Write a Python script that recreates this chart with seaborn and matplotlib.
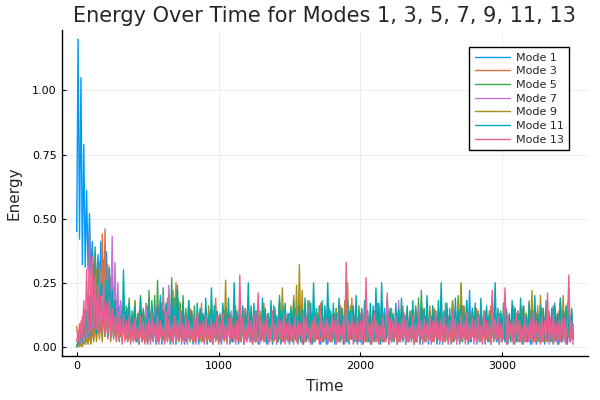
import numpy as np
import pandas as pd
import matplotlib
matplotlib.use("Agg")
import matplotlib.pyplot as plt
import seaborn as sns

# energies, in hundredths, one value every 10 time units (0..3500)
time = np.arange(0, 3501, 10)

mode_labels = ["Mode 1", "Mode 3", "Mode 5", "Mode 7", "Mode 9", "Mode 11", "Mode 13"]
mode_colors = ["#009AFA", "#E36F47", "#3EA44E", "#C371D2", "#AC8E18", "#00A9AD", "#ED5E93"]

mode1 = [
    45,120,42,105,32,79,31,61,30,52,28,41,25,37,22,36,18,41,20,34,14,37,12,28,10,
    24,9,23,7,19,6,17,5,16,4,14,3,12,2,10,3,13,2,9,1,11,2,8,3,12,
    1,9,2,7,3,11,1,8,2,10,1,6,2,9,3,12,1,7,2,10,1,8,3,11,2,
    9,1,12,2,7,3,10,1,8,2,11,1,6,3,9,2,13,1,8,2,10,1,7,3,9,
    2,11,1,8,3,10,2,13,1,7,2,9,3,12,1,8,2,10,1,6,3,11,2,9,1,
    12,2,8,1,10,3,7,2,11,1,9,2,13,1,8,3,10,2,7,1,12,2,9,3,11,
    1,8,2,10,3,12,1,9,2,7,1,11,3,8,2,13,1,10,2,9,3,12,1,8,2,
    10,1,7,3,11,2,9,1,12,2,8,3,10,1,6,2,11,1,9,3,13,2,8,1,10,
    2,12,1,9,3,14,2,11,1,16,3,13,2,17,1,12,2,15,3,10,1,14,2,9,3,
    11,1,8,2,12,3,9,1,10,2,7,3,13,1,9,2,11,1,8,3,10,2,12,1,9,
    2,11,3,8,1,13,2,10,1,14,3,9,2,12,1,16,2,11,3,13,1,10,2,15,3,
    18,1,22,2,14,3,11,1,9,2,12,3,8,1,10,2,13,1,9,3,11,2,8,1,12,
    2,9,3,11,1,8,2,12,1,10,3,7,2,13,1,9,2,11,3,8,1,12,2,10,1,
    9,3,11,2,8,1,12,2,10,3,7,1,9,2,13,1,8,3,11,2,9,1,10,2,7,
    3,
]

mode3 = [
    8,2,9,3,12,4,15,5,18,6,22,8,25,10,30,9,33,12,44,14,46,10,32,8,27,
    7,21,6,18,5,16,4,14,6,12,3,15,4,11,5,13,3,10,2,14,4,9,3,12,2,
    16,4,13,3,11,5,15,2,12,4,17,3,14,5,19,4,13,2,22,5,25,3,18,4,14,
    3,12,2,10,4,15,3,11,2,9,5,13,3,17,2,12,4,10,3,14,2,11,4,19,3,
    12,2,10,4,14,3,9,5,13,2,11,4,16,3,12,2,10,5,15,3,9,4,13,2,11,
    3,14,2,10,4,12,5,17,3,11,2,9,4,13,3,15,2,10,4,12,3,16,5,11,2,
    13,4,10,3,15,2,12,5,9,3,14,2,11,4,18,3,12,2,10,4,13,3,17,2,11,
    4,12,3,15,2,10,5,13,3,11,2,16,4,12,3,9,2,14,5,19,3,12,4,10,2,
    13,3,11,4,15,2,12,5,10,3,14,2,17,4,11,3,13,2,9,5,12,3,15,2,10,
    4,13,2,11,3,16,5,12,2,10,4,14,3,9,2,13,5,11,3,15,2,12,4,10,3,
    12,2,15,4,11,3,13,5,10,2,17,3,12,4,9,2,14,3,11,5,13,2,16,4,12,
    3,10,2,13,4,11,5,15,3,12,2,9,4,14,3,11,2,16,5,12,3,10,2,13,4,
    11,3,14,2,12,4,10,5,16,3,11,2,13,4,15,3,12,2,10,5,14,3,11,4,13,
    2,12,4,15,3,11,2,13,5,10,3,16,2,12,4,14,3,11,5,13,2,17,4,12,3,
    9,
]

mode5 = [
    0,2,1,5,2,9,3,14,4,20,5,28,6,39,7,30,6,25,5,21,4,18,5,15,4,
    13,3,11,4,14,2,10,3,12,4,16,3,19,2,14,4,18,3,12,5,20,4,15,3,17,
    4,22,3,16,5,20,2,26,4,18,3,23,5,15,2,21,4,27,3,19,5,24,2,17,4,
    20,3,15,5,18,2,13,4,16,3,11,5,14,2,12,4,10,3,13,2,15,4,11,3,9,
    2,12,4,10,3,14,2,11,5,13,3,9,2,12,4,15,3,10,2,13,4,11,3,16,2,
    10,4,12,3,14,2,11,5,9,3,13,2,15,4,10,3,12,2,17,4,11,3,14,5,10,
    3,13,2,11,4,15,3,10,5,12,2,14,3,18,4,11,2,13,3,10,5,16,2,12,4,
    11,3,14,2,10,4,13,5,12,3,9,2,15,4,11,3,13,2,10,5,14,3,12,2,16,
    4,12,3,10,2,14,5,11,3,13,2,9,4,15,3,12,2,11,5,14,3,10,4,13,2,
    12,3,15,2,11,4,13,3,10,5,14,2,12,4,16,3,19,2,22,4,15,3,12,5,14,
    3,11,2,13,4,10,3,15,5,12,2,14,3,11,4,17,2,13,3,20,5,24,2,16,4,
    12,3,14,2,10,5,13,3,11,2,15,4,12,3,10,2,14,5,11,3,13,4,9,2,12,
    3,14,2,11,4,13,5,10,3,15,2,12,4,11,3,16,2,13,5,10,3,14,2,12,4,
    11,3,13,2,15,4,12,3,10,5,14,2,16,3,12,4,18,2,13,3,11,5,15,2,10,
    4,
]

mode7 = [
    0,1,0,2,1,3,1,5,2,7,2,9,3,12,4,15,5,19,6,22,5,26,8,30,7,
    43,6,33,5,25,4,18,3,13,5,10,2,14,4,11,3,15,2,12,4,9,3,13,2,16,
    3,12,4,10,2,14,5,17,3,13,2,20,4,16,3,24,5,18,2,15,4,12,3,10,5,
    13,2,11,4,9,3,14,5,10,2,12,3,8,4,13,2,11,5,10,3,14,2,9,4,12,
    3,10,2,13,5,11,3,9,4,14,2,12,3,10,5,13,2,11,4,15,3,9,2,12,4,
    11,3,13,2,10,4,14,3,12,5,9,2,13,4,11,3,10,2,15,5,12,3,9,4,13,
    2,11,4,14,3,10,5,12,2,13,4,9,3,15,2,11,5,10,3,14,4,12,2,16,3,
    12,4,10,2,13,3,11,5,15,2,10,4,12,3,14,2,17,5,11,3,13,4,10,2,12,
    3,14,5,11,2,13,4,10,3,12,5,15,2,11,4,13,3,10,2,14,5,12,3,11,4,
    13,2,18,4,12,3,10,5,14,2,11,3,13,4,9,2,15,5,12,3,10,4,14,2,11,
    5,12,3,10,4,14,2,13,5,11,3,15,2,12,4,18,3,13,5,10,2,14,4,11,3,
    13,5,10,2,14,3,12,4,11,2,15,5,13,3,10,4,12,2,14,5,11,3,13,4,10,
    2,12,4,15,3,11,5,13,2,10,4,14,3,12,5,11,2,13,4,10,3,15,2,12,5,
    11,3,14,2,12,4,10,5,13,3,15,2,11,4,12,3,14,5,10,2,13,4,11,3,12,
    5,
]

mode9 = [
    0,1,0,1,0,2,1,3,1,5,1,7,2,9,2,12,3,10,2,14,4,11,3,16,2,
    13,4,9,2,12,3,8,2,10,4,13,2,9,3,11,2,18,4,12,3,10,2,14,3,9,
    2,11,3,8,4,12,2,10,3,14,2,9,4,12,3,10,2,13,3,8,4,11,2,15,3,
    10,2,12,4,9,3,14,2,11,3,8,4,13,2,10,3,12,2,16,4,11,3,9,2,13,
    3,12,4,16,2,26,3,14,4,11,2,13,3,9,4,12,2,10,3,14,2,11,4,9,3,
    12,2,10,4,14,3,11,2,13,4,9,3,15,2,12,4,10,3,18,2,23,4,14,3,12,
    2,16,4,20,3,24,2,32,4,22,3,15,2,12,4,10,3,13,2,11,4,14,3,9,2,
    12,4,10,3,13,2,11,4,15,3,12,2,14,4,18,3,25,2,16,4,12,3,10,2,13,
    4,11,3,14,2,10,4,12,3,9,2,13,4,11,3,15,2,12,4,10,3,14,2,11,4,
    12,3,10,2,13,4,11,3,15,2,12,4,9,3,14,2,11,4,13,3,10,2,12,4,16,
    3,11,2,14,4,12,3,10,2,13,4,15,3,11,2,18,4,13,3,17,2,25,4,15,3,
    12,2,10,4,13,3,11,2,14,4,12,3,9,2,13,4,11,3,15,2,12,4,10,3,14,
    2,11,4,13,3,10,2,15,4,12,3,14,2,11,4,16,3,13,2,18,4,22,3,14,2,
    16,4,20,3,13,2,11,4,14,3,12,2,15,4,10,3,17,2,20,4,13,3,11,2,14,
    3,
]

mode11 = [
    0,2,1,5,2,9,3,14,4,20,5,26,6,22,5,28,7,24,6,20,5,26,4,31,6,
    22,5,18,4,15,6,12,3,30,5,14,4,17,3,12,5,16,2,13,4,19,3,14,5,11,
    3,15,4,18,2,13,5,16,3,20,4,14,2,17,5,12,3,19,4,15,2,22,5,13,3,
    16,4,12,2,18,5,14,3,11,4,17,2,15,5,13,3,19,4,12,2,23,5,16,3,14,
    4,13,2,17,5,15,3,19,4,12,2,25,5,14,3,18,4,16,2,13,5,25,3,15,4,
    17,2,14,5,12,3,19,4,15,2,13,5,18,3,16,4,12,2,20,5,14,3,17,4,13,
    2,15,5,18,3,12,4,16,2,14,5,19,3,13,4,17,2,25,5,15,3,12,4,18,2,
    16,5,25,3,14,4,17,2,13,5,19,3,15,4,12,2,18,5,14,3,16,4,20,2,13,
    5,15,3,18,4,12,2,17,5,14,3,23,4,16,2,25,5,13,3,19,4,15,2,12,5,
    17,3,14,4,19,2,13,5,16,3,12,4,18,2,15,5,13,3,17,4,14,2,20,5,12,
    3,16,4,14,2,18,5,25,3,13,4,17,2,15,5,12,3,19,4,14,2,16,5,13,3,
    18,4,12,2,15,5,17,3,13,4,19,2,14,5,16,3,12,4,20,2,25,5,15,3,13,
    4,17,2,14,5,12,3,18,4,15,2,13,5,19,3,16,4,12,2,17,5,14,3,20,4,
    13,2,16,5,14,3,18,4,12,2,15,5,17,3,13,4,19,2,14,5,16,3,12,4,15,
    3,
]

mode13 = [
    2,6,1,10,3,18,4,30,5,45,6,35,4,28,7,24,5,20,6,22,4,17,5,19,3,
    15,4,12,2,14,3,11,1,13,2,10,3,12,1,9,2,11,3,8,1,12,2,10,1,9,
    2,11,1,13,3,9,2,12,1,10,3,8,1,14,2,11,3,9,1,12,2,10,3,13,1,
    9,2,12,1,10,3,8,2,11,1,13,3,9,2,10,1,12,3,8,2,11,1,9,3,12,
    1,10,2,13,3,9,1,11,2,12,3,8,1,10,2,28,3,11,1,9,2,12,3,10,1,
    13,2,9,21,1,11,3,10,2,12,1,8,3,14,2,9,1,11,3,10,2,13,1,9,2,
    11,3,8,1,12,2,10,3,9,1,13,2,11,3,8,1,10,2,12,3,9,1,14,2,10,
    3,11,1,9,2,12,3,10,1,13,2,8,3,11,1,33,2,10,3,12,1,9,2,11,3,
    10,1,12,2,27,3,9,1,11,2,13,3,10,1,8,2,12,3,9,21,1,11,2,10,3,
    12,1,9,2,11,3,13,1,10,2,8,3,12,1,9,2,14,3,10,1,11,2,9,3,12,
    1,10,2,13,3,9,1,11,2,12,3,8,1,10,2,14,3,11,1,9,2,12,3,10,1,
    13,2,9,3,11,1,10,2,12,3,8,1,14,2,10,3,9,1,22,2,11,3,12,1,9,
    2,10,23,1,12,3,9,2,11,1,13,3,10,2,8,1,12,3,9,2,11,1,14,2,10,
    3,9,1,12,2,10,3,21,1,11,2,13,3,9,1,10,2,12,3,11,1,9,28,2,10,
    1,
]

series = [mode1, mode3, mode5, mode7, mode9, mode11, mode13]
frames = []
for label, vals in zip(mode_labels, series):
    frames.append(pd.DataFrame({"Time": time, "Energy": np.array(vals) / 100, "Mode": label}))
df = pd.concat(frames, ignore_index=True)

sns.set_style("white")
plt.rcParams["font.family"] = ["DejaVu Sans"]

fig = plt.figure(figsize=(6, 4), dpi=100)
ax = fig.add_axes([0.103, 0.11, 0.877, 0.815])

sns.lineplot(data=df, x="Time", y="Energy", hue="Mode", hue_order=mode_labels,
             palette=mode_colors, estimator=None, linewidth=1.0, ax=ax)

ax.set_xlim(-105, 3605)
ax.set_ylim(-0.036, 1.236)
ax.set_xticks([0, 1000, 2000, 3000])
ax.set_yticks([0.0, 0.25, 0.5, 0.75, 1.0])
ax.set_yticklabels(["0.00", "0.25", "0.50", "0.75", "1.00"])
ax.tick_params(direction="in", length=3, labelsize=8, color="black",
               labelcolor="black", left=True, bottom=True)
ax.grid(True, color="#ebebeb", linewidth=0.6)
ax.set_axisbelow(True)
for s in ["top", "right"]:
    ax.spines[s].set_visible(False)
for s in ["left", "bottom"]:
    ax.spines[s].set_color("black")
    ax.spines[s].set_linewidth(1)

ax.set_xlabel("Time", fontsize=11, labelpad=6)
ax.set_ylabel("Energy", fontsize=11, labelpad=8)
ax.set_title("Energy Over Time for Modes 1, 3, 5, 7, 9, 11, 13", fontsize=15, pad=6)

ax.legend(loc="upper right", fontsize=8, fancybox=False, edgecolor="black",
          framealpha=1, handlelength=3.2, handletextpad=0.5, labelspacing=0.33,
          borderpad=0.5, bbox_to_anchor=(0.975, 0.965))

plt.savefig("out.png", dpi=100)
